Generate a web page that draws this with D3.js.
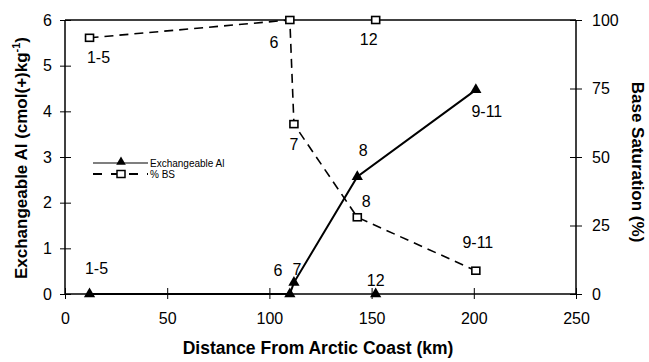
<!DOCTYPE html>
<html>
<head>
<meta charset="utf-8">
<script src="https://cdn.jsdelivr.net/npm/d3@7"></script>
<style>
  body { margin: 0; background: #fff; }
  text { font-family: "Liberation Sans", Arial, sans-serif; fill: #000; }
</style>
</head>
<body>
<svg id="chart" width="649" height="362"></svg>
<script>
// data
const sites = ['1-5', '6', '7', '8', '9-11', '12'];
const distance = [12, 110, 112, 143, 201, 152];
const alValues = [0, 0, 0.25, 2.57, 4.47, 0];
const bsValues = [93.5, 100, 62, 28, 8.5, 100];
const connected = ['1-5', '6', '7', '8', '9-11'];   // site 12 is not joined
const xTicks = [0, 50, 100, 150, 200, 250];
const alTicks = [0, 1, 2, 3, 4, 5, 6];
const bsTicks = [0, 25, 50, 75, 100];

// label nudges (px) for each site label
const alLabelOffset = {'1-5': [7, -26], '6': [-12, -24], '7': [3, -13], '8': [6, -26], '9-11': [11, 22], '12': [0, -14]};
const bsLabelOffset = {'1-5': [9, 20], '6': [-16, 22], '7': [0, 20], '8': [9, -16], '9-11': [2, -28], '12': [-7, 19]};

const svg = d3.select('#chart');
const pLeft = 65, pRight = 576, pTop = 20, pBottom = 294;

const x = d3.scaleLinear().domain([0, 250]).range([pLeft, pRight]);
const yAl = d3.scaleLinear().domain([0, 6]).range([pBottom, pTop]);
const yBs = d3.scaleLinear().domain([0, 100]).range([pBottom, pTop]);

const rows = sites.map((s, i) => ({site: s, km: distance[i], al: alValues[i], bs: bsValues[i]}));
const lineRows = rows.filter(d => connected.includes(d.site));

// frame: top border
svg.append('line').attr('x1', pLeft).attr('x2', pRight).attr('y1', pTop).attr('y2', pTop)
  .attr('stroke', '#000').attr('stroke-width', 1.5);

// axes
const xAxis = svg.append('g').attr('transform', `translate(0,${pBottom})`)
  .call(d3.axisBottom(x).tickValues(xTicks).tickSize(5).tickPadding(14));
const yAxisL = svg.append('g').attr('transform', `translate(${pLeft},0)`)
  .call(d3.axisLeft(yAl).tickValues(alTicks).tickFormat(d3.format('d')).tickSize(5).tickPadding(8));
const yAxisR = svg.append('g').attr('transform', `translate(${pRight},0)`)
  .call(d3.axisRight(yBs).tickValues(bsTicks).tickSize(6).tickPadding(10));

[xAxis, yAxisL, yAxisR].forEach(g => {
  g.select('.domain').attr('stroke-width', 1.5);
  g.selectAll('text').attr('font-size', 16).attr('font-family', '"Liberation Sans", Arial, sans-serif');
});
xAxis.select('.domain').attr('d', `M${pLeft},0H${pRight}`);
yAxisL.select('.domain').attr('d', `M0,${pTop}V${pBottom}`);
yAxisR.select('.domain').attr('d', `M0,${pTop}V${pBottom}`);
// ticks cross the axis lines
xAxis.selectAll('.tick line').attr('y1', -6).attr('y2', 5);
yAxisL.selectAll('.tick line').attr('x1', 6).attr('x2', -5);
yAxisR.selectAll('.tick line').attr('x1', -6).attr('x2', 6);

// %BS dashed line + hollow squares
svg.append('path').datum(lineRows)
  .attr('fill', 'none').attr('stroke', '#000').attr('stroke-width', 1.6)
  .attr('stroke-dasharray', '9,6')
  .attr('d', d3.line().x(d => x(d.km)).y(d => yBs(d.bs)));

svg.selectAll('.bs-pt').data(rows).enter().append('rect')
  .attr('class', 'bs-pt')
  .attr('x', d => x(d.km) - 4).attr('y', d => yBs(d.bs) - 3.5)
  .attr('width', 8).attr('height', 7)
  .attr('fill', '#fff').attr('stroke', '#000').attr('stroke-width', 1.6);

// Exchangeable Al solid line + filled triangles
svg.append('path').datum(lineRows)
  .attr('fill', 'none').attr('stroke', '#000').attr('stroke-width', 2)
  .attr('d', d3.line().x(d => x(d.km)).y(d => yAl(d.al)));

const tri = d3.symbol().type(d3.symbolTriangle).size(55);
svg.selectAll('.al-pt').data(rows).enter().append('path')
  .attr('class', 'al-pt')
  .attr('transform', d => `translate(${x(d.km)},${yAl(d.al)})`)
  .attr('d', tri).attr('fill', '#000');

// site labels
svg.selectAll('.al-lab').data(rows).enter().append('text')
  .attr('class', 'al-lab')
  .attr('x', d => x(d.km) + alLabelOffset[d.site][0])
  .attr('y', d => yAl(d.al) + alLabelOffset[d.site][1])
  .attr('text-anchor', 'middle').attr('dominant-baseline', 'central')
  .attr('font-size', 16).text(d => d.site);

svg.selectAll('.bs-lab').data(rows).enter().append('text')
  .attr('class', 'bs-lab')
  .attr('x', d => x(d.km) + bsLabelOffset[d.site][0])
  .attr('y', d => yBs(d.bs) + bsLabelOffset[d.site][1])
  .attr('text-anchor', 'middle').attr('dominant-baseline', 'central')
  .attr('font-size', 16).text(d => d.site);

// legend
const lg = svg.append('g').attr('transform', 'translate(93,163)');
lg.append('line').attr('x1', 0).attr('x2', 55).attr('y1', 0).attr('y2', 0)
  .attr('stroke', '#000').attr('stroke-width', 1.2);
lg.append('path').attr('transform', 'translate(28,-1)')
  .attr('d', d3.symbol().type(d3.symbolTriangle).size(40)).attr('fill', '#000');
lg.append('text').attr('x', 57).attr('y', 0).attr('dominant-baseline', 'central')
  .attr('font-size', 10).text('Exchangeable Al');
lg.append('line').attr('x1', 0).attr('x2', 55).attr('y1', 11).attr('y2', 11)
  .attr('stroke', '#000').attr('stroke-width', 1.8).attr('stroke-dasharray', '9,9');
lg.append('rect').attr('x', 24).attr('y', 7.5).attr('width', 8).attr('height', 7)
  .attr('fill', '#fff').attr('stroke', '#000').attr('stroke-width', 1.5);
lg.append('text').attr('x', 57).attr('y', 11).attr('dominant-baseline', 'central')
  .attr('font-size', 10).text('% BS');

// axis titles
svg.append('text').attr('x', 318).attr('y', 354)
  .attr('text-anchor', 'middle').attr('font-size', 17.5).attr('font-weight', 'bold')
  .text('Distance From Arctic Coast (km)');

const lt = svg.append('text').attr('transform', 'translate(27,158) rotate(-90)')
  .attr('text-anchor', 'middle').attr('font-size', 17).attr('font-weight', 'bold');
lt.append('tspan').text('Exchangeable Al (cmol(+)kg');
lt.append('tspan').attr('font-size', 11).attr('dy', -7).text('-1');
lt.append('tspan').attr('dy', 7).text(')');

svg.append('text').attr('transform', 'translate(632,162) rotate(90)')
  .attr('text-anchor', 'middle').attr('font-size', 17).attr('font-weight', 'bold')
  .text('Base Saturation (%)');
</script>
</body>
</html>
